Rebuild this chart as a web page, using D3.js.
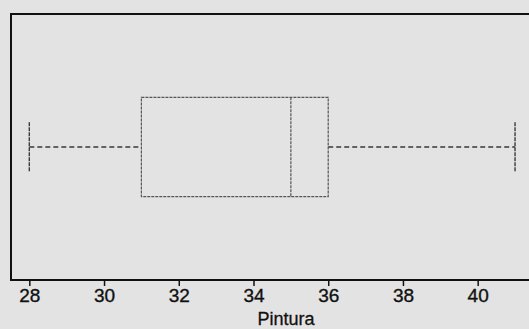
<!DOCTYPE html>
<html>
<head>
<meta charset="utf-8">
<script src="https://cdn.jsdelivr.net/npm/d3@7"></script>
<style>
  html, body { margin: 0; padding: 0; background: #e3e3e3; }
  svg { display: block; }
</style>
</head>
<body>
<svg id="chart" width="529" height="329"></svg>
<script>
// Five-number summary of the "Pintura" sample
const variableName = "Pintura";
const summaryKeys = ["min", "q1", "median", "q3", "max"];
const summaryValues = [28, 31, 35, 36, 41];
const tickValues = [28, 30, 32, 34, 36, 38, 40];

const stats = Object.fromEntries(summaryKeys.map((k, i) => [k, summaryValues[i]]));

const svg = d3.select("#chart");
const W = 529, H = 329;
const plot = { left: 11, top: 14, right: 561, bottom: 280 };

const x = d3.scaleLinear().domain([27.51, 42.23]).range([plot.left, plot.right]);
const y = d3.scaleBand().domain([variableName]).range([plot.top, plot.bottom])
  .paddingInner(0).paddingOuter(0.84);

svg.append("rect").attr("width", W).attr("height", H).attr("fill", "#e3e3e3");

// Plot frame (left, top, bottom)
svg.append("path")
  .attr("d", `M${plot.right},${plot.top}H${plot.left}V${plot.bottom}H${plot.right}`)
  .attr("fill", "none").attr("stroke", "#111").attr("stroke-width", 2);

const g = svg.append("g");
const yTop = y(variableName), bw = y.bandwidth(), yMid = yTop + bw / 2;

// Whiskers
g.append("line")
  .attr("x1", x(stats.min)).attr("x2", x(stats.q1))
  .attr("y1", yMid).attr("y2", yMid)
  .attr("stroke", "#3a3a3a").attr("stroke-width", 1.4).attr("stroke-dasharray", "5,3");
g.append("line")
  .attr("x1", x(stats.q3)).attr("x2", x(stats.max))
  .attr("y1", yMid).attr("y2", yMid)
  .attr("stroke", "#3a3a3a").attr("stroke-width", 1.4).attr("stroke-dasharray", "5,3");

// Whisker caps
[stats.min, stats.max].forEach(v => {
  g.append("line")
    .attr("x1", x(v)).attr("x2", x(v))
    .attr("y1", yMid - bw / 4).attr("y2", yMid + bw / 4)
    .attr("stroke", "#3a3a3a").attr("stroke-width", 1.4).attr("stroke-dasharray", "4,1");
});

// Box and median
g.append("rect")
  .attr("x", x(stats.q1)).attr("y", yTop)
  .attr("width", x(stats.q3) - x(stats.q1)).attr("height", bw)
  .attr("fill", "none").attr("stroke", "#555").attr("stroke-width", 1.2)
  .attr("stroke-dasharray", "3,1");
g.append("line")
  .attr("x1", x(stats.median)).attr("x2", x(stats.median))
  .attr("y1", yTop).attr("y2", yTop + bw)
  .attr("stroke", "#555").attr("stroke-width", 1.2).attr("stroke-dasharray", "3,1");

// Bottom axis
const axis = svg.append("g")
  .attr("transform", `translate(0,${plot.bottom})`)
  .call(d3.axisBottom(x).tickValues(tickValues).tickSize(6).tickFormat(d3.format("d")));
axis.select(".domain").remove();
axis.selectAll(".tick line").attr("stroke", "#111").attr("stroke-width", 1.5);
axis.selectAll(".tick text")
  .attr("fill", "#111")
  .attr("stroke", "#111").attr("stroke-width", 0.35)
  .style("font-family", "'Liberation Sans', Arial, sans-serif")
  .style("font-size", "19px");

// Axis title
svg.append("text")
  .attr("x", (plot.left + plot.right) / 2).attr("y", 325)
  .attr("text-anchor", "middle")
  .attr("fill", "#111")
  .attr("stroke", "#111").attr("stroke-width", 0.3)
  .style("font-family", "'Liberation Sans', Arial, sans-serif")
  .style("font-size", "18px")
  .text(variableName);
</script>
</body>
</html>
